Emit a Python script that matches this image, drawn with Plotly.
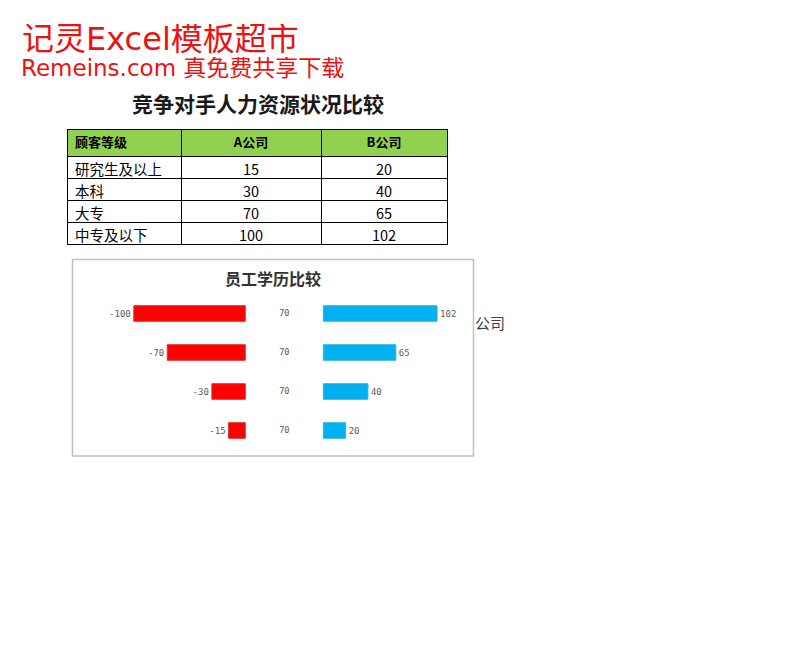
import plotly.graph_objects as go

# page body has an 8px margin, so the figure is drawn 8px in from the corner
OFF = 8
W, H = 804 - OFF, 649 - OFF

# ---- data ----
levels = ["研究生及以上", "本科", "大专", "中专及以下"]
company_a = [15, 30, 70, 100]
company_b = [20, 40, 65, 102]
spacer = [70, 70, 70, 70]
table_header = ["顾客等级", "A公司", "B公司"]
page_title = "竞争对手人力资源状况比较"
chart_title = "员工学历比较"
brand_line1 = "记灵Excel模板超市"
brand_line2 = "Remeins.com 真免费共享下载"

def px_x(p):
    return (p - OFF) / W

def px_y(p):
    return 1 - (p - OFF) / H

FONT = "Noto Sans CJK SC, Noto Sans, sans-serif"
WIDE = "DejaVu Sans, Noto Sans CJK SC, sans-serif"

fig = go.Figure()

# ---- table ----
fig.add_trace(go.Table(
    domain=dict(x=[px_x(67), px_x(447.5)], y=[px_y(252), px_y(129)]),
    columnwidth=[114, 140, 126],
    header=dict(
        values=table_header,
        fill_color="#92d050",
        line=dict(color="#000000", width=1),
        align=["left", "center", "center"],
        font=dict(family=FONT, size=13, color="#000000", weight="bold"),
        height=27,
    ),
    cells=dict(
        values=[levels, company_a, company_b],
        fill_color="#ffffff",
        line=dict(color="#000000", width=1),
        align=["left", "center", "center"],
        font=dict(family=FONT, size=14.5, color="#000000"),
        height=22,
    ),
))

# ---- butterfly chart ----
LBL = dict(family="DejaVu Sans Mono, monospace", size=9, color="#595959")
neg_a = [-v for v in company_a]
fig.add_trace(go.Bar(
    y=levels, x=neg_a, base=0, orientation="h",
    marker=dict(color="#ff0000", line=dict(color="#e03030", width=1)),
    text=[str(v) for v in neg_a], textposition="outside", textfont=LBL,
    cliponaxis=False, width=0.4, xaxis="x", yaxis="y", showlegend=False,
))
fig.add_trace(go.Bar(
    y=levels, x=spacer, base=0, orientation="h",
    marker=dict(color="rgba(255,255,255,0)", line=dict(width=0)),
    text=[str(v) for v in spacer], textposition="inside", insidetextanchor="middle",
    textfont=LBL, width=0.4, xaxis="x", yaxis="y", showlegend=False,
))
fig.add_trace(go.Bar(
    y=levels, x=company_b, base=spacer, orientation="h",
    marker=dict(color="#00b0f0", line=dict(color="#3cb4c8", width=1)),
    text=[str(v) for v in company_b], textposition="outside", textfont=LBL,
    cliponaxis=False, width=0.4, xaxis="x", yaxis="y", showlegend=False,
))

scale = 1.115  # px per unit
x0 = 245.3
xl, xr = 80, 465
fig.update_layout(
    width=W, height=H,
    margin=dict(l=0, r=0, t=0, b=0),
    paper_bgcolor="#ffffff", plot_bgcolor="rgba(0,0,0,0)",
    barmode="overlay",
    xaxis=dict(domain=[px_x(xl), px_x(xr)],
               range=[(xl - x0) / scale, (xr - x0) / scale],
               visible=False, fixedrange=True),
    yaxis=dict(domain=[px_y(450), px_y(294)], visible=False,
               categoryorder="array", categoryarray=levels),
    font=dict(family=FONT),
    shapes=[dict(type="rect", xref="paper", yref="paper",
                 x0=px_x(72.5), x1=px_x(473.5), y0=px_y(456), y1=px_y(259.5),
                 line=dict(color="#c0c0c0", width=1.5), layer="below")],
    annotations=[
        dict(text=brand_line1, x=px_x(20), y=px_y(39), xref="paper", yref="paper",
             xanchor="left", yanchor="middle", showarrow=False, height=30,
             font=dict(family=WIDE, size=32, color="#ee1111")),
        dict(text=brand_line2, x=px_x(19), y=px_y(67.5), xref="paper", yref="paper",
             xanchor="left", yanchor="middle", showarrow=False, height=22,
             font=dict(family=WIDE, size=23, color="#ee1111")),
        dict(text=page_title, x=px_x(258), y=px_y(102.5), xref="paper", yref="paper",
             xanchor="center", yanchor="middle", showarrow=False,
             font=dict(family=FONT, size=21, color="#1a1a1a", weight="bold")),
        dict(text=chart_title, x=px_x(272.5), y=px_y(277.5), xref="paper", yref="paper",
             xanchor="center", yanchor="middle", showarrow=False,
             font=dict(family=FONT, size=16, color="#333333", weight="bold")),
        dict(text="公司", x=px_x(473), y=px_y(322), xref="paper", yref="paper",
             xanchor="left", yanchor="middle", showarrow=False,
             font=dict(family=FONT, size=15, color="#404040")),
    ],
)

fig.write_html("out.html")
